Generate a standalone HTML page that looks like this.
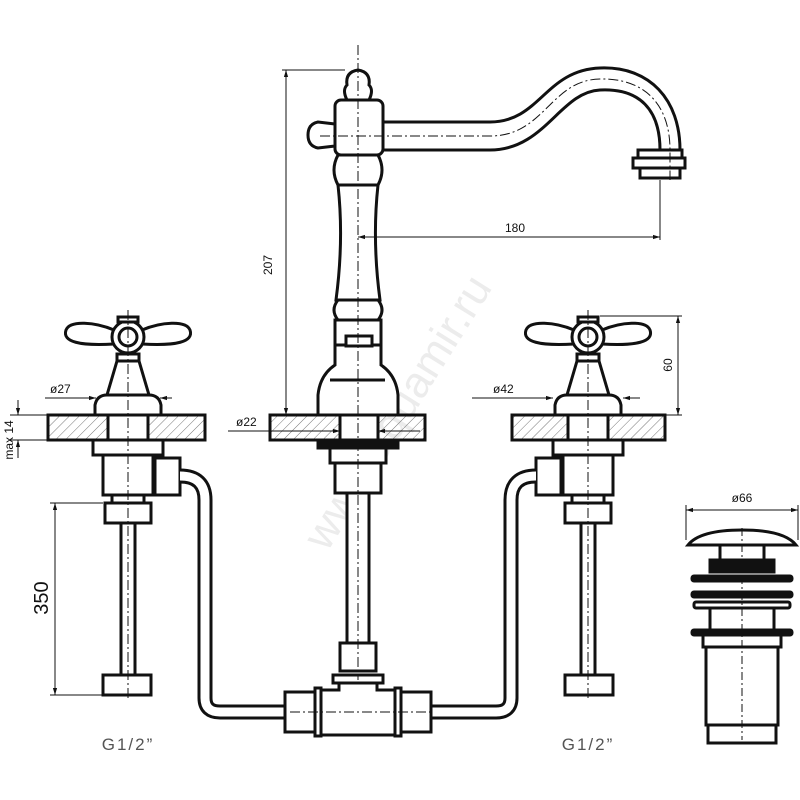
<!DOCTYPE html>
<html><head><meta charset="utf-8"><style>
html,body{margin:0;padding:0;background:#fff;width:800px;height:800px;overflow:hidden}
svg{display:block}
text{font-family:"Liberation Sans",sans-serif;fill:#111}
</style></head><body>
<svg width="800" height="800" viewBox="0 0 800 800" xmlns="http://www.w3.org/2000/svg">
<defs>
<pattern id="h" width="7" height="7" patternUnits="userSpaceOnUse" patternTransform="rotate(45)">
<line x1="0" y1="0" x2="0" y2="7" stroke="#777" stroke-width="1"/></pattern>
<marker id="a" viewBox="0 0 10 10" refX="10" refY="5" markerWidth="7" markerHeight="7" orient="auto-start-reverse"><path d="M0,2 L10,5 L0,8z" fill="#111"/></marker>
<g id="valve" fill="#fff" stroke="#111" stroke-width="3">
 <path d="M114,330 C95,322 70,320 66,330 C62,342 80,346 114,344z"/>
 <path d="M142,330 C161,322 186,320 190,330 C194,342 176,346 142,344z"/>
 <circle cx="128" cy="337" r="16"/>
 <circle cx="128" cy="337" r="9"/>
 <rect x="118" y="317" width="20" height="5"/>
 <rect x="117" y="354" width="22" height="7"/>
 <path d="M117,361 L139,361 L149,395 L107,395z"/>
 <path d="M95,415 L95,405 Q97,395 107,395 L149,395 Q159,395 161,405 L161,415z"/>
 <rect x="108" y="415" width="40" height="25"/>
 <rect x="93" y="440" width="70" height="15"/>
 <rect x="103" y="455" width="50" height="40"/>
 <rect x="155" y="458" width="25" height="37"/>
 <rect x="112" y="495" width="32" height="8"/>
 <rect x="105" y="503" width="46" height="20"/>
 <rect x="121" y="523" width="14" height="152"/>
 <rect x="103" y="675" width="48" height="20"/>
 <path d="M180,476 Q205,476 205,500 L205,698 Q205,712 220,712 L288,712" fill="none" stroke-width="15"/>
 <path d="M180,476 Q205,476 205,500 L205,698 Q205,712 220,712 L288,712" fill="none" stroke="#fff" stroke-width="9"/>
 <line x1="128" y1="310" x2="128" y2="700" stroke-width="1" stroke-dasharray="10,3,2,3"/>
</g>
</defs>

<text x="410" y="420" font-size="44" transform="rotate(-58 410 420)" text-anchor="middle" style="fill:#ececec">www.aquamir.ru</text>

<!-- counter slabs -->
<g stroke="#111" stroke-width="3" fill="url(#h)">
<rect x="48" y="415" width="157" height="25"/>
<rect x="270" y="415" width="155" height="25"/>
<rect x="512" y="415" width="153" height="25"/>
</g>

<use href="#valve"/>
<use href="#valve" transform="translate(716,0) scale(-1,1)"/>

<!-- center faucet -->
<g fill="#fff" stroke="#111" stroke-width="3">
 <path d="M383,122 L490,122 C540,122 545,70 600,68 C650,66 680,100 680,150 L660,150 C660,110 640,88 600,90 C560,92 545,150 490,150 L383,150z"/>
 <rect x="638" y="150" width="44" height="8"/>
 <rect x="633" y="158" width="52" height="10"/>
 <rect x="640" y="168" width="40" height="10"/>
 <path d="M335,124 L318,122 Q308,124 308,135 Q308,146 318,148 L335,146z"/>
 <path d="M347,100 Q342,90 347,85 Q345,72 358,70 Q371,72 369,85 Q374,90 369,100z"/>
 <rect x="335" y="100" width="48" height="55" rx="6"/>
 <path d="M338,155 L378,155 Q386,170 378,185 L338,185 Q330,170 338,155z"/>
 <path d="M338,185 L378,185 Q372,240 380,300 L336,300 Q344,240 338,185z"/>
 <path d="M338,300 L378,300 Q386,310 378,320 L338,320 Q330,310 338,300z"/>
 <rect x="335" y="320" width="46" height="25"/>
 <path d="M318,415 L318,395 Q320,375 335,365 L335,345 L381,345 L381,365 Q396,375 398,395 L398,415z"/>
 <rect x="346" y="336" width="26" height="10"/>
 <line x1="330" y1="380" x2="385" y2="380"/>
 <rect x="340" y="415" width="38" height="25"/>
 <rect x="318" y="440" width="80" height="8" fill="#111"/>
 <rect x="330" y="448" width="56" height="15"/>
 <rect x="335" y="463" width="46" height="30"/>
 <rect x="347" y="493" width="22" height="150"/>
 <rect x="340" y="643" width="36" height="28"/>
 <rect x="333" y="675" width="50" height="8"/>
 <path d="M339,683 L377,683 L377,690 L395,690 L395,735 L321,735 L321,690 L339,690z"/>
 <rect x="285" y="692" width="30" height="40"/>
 <rect x="315" y="688" width="6" height="48"/>
 <rect x="401" y="692" width="30" height="40"/>
 <rect x="395" y="688" width="6" height="48"/>
</g>
<g stroke="#111" stroke-width="1" stroke-dasharray="10,3,2,3" fill="none">
 <line x1="358" y1="45" x2="358" y2="680"/>
 <path d="M320,136 L490,136 C545,136 550,80 600,79 C645,78 670,105 670,150 L670,180"/>
 <line x1="290" y1="712" x2="430" y2="712"/>
</g>

<!-- drain -->
<g fill="#fff" stroke="#111" stroke-width="3">
 <path d="M688,545 Q700,530 742,530 Q784,530 796,545z"/>
 <rect x="720" y="545" width="44" height="15"/>
 <rect x="710" y="560" width="64" height="12" fill="#111"/>
 <rect x="692" y="576" width="100" height="5" rx="2" fill="#111"/>
 <rect x="692" y="592" width="100" height="5" rx="2" fill="#111"/>
 <rect x="694" y="602" width="96" height="6" rx="2"/>
 <rect x="710" y="608" width="64" height="22"/>
 <rect x="692" y="630" width="100" height="5" rx="2" fill="#111"/>
 <rect x="703" y="635" width="78" height="12"/>
 <rect x="706" y="647" width="72" height="78"/>
 <rect x="708" y="725" width="68" height="18"/>
</g>
<line x1="742" y1="528" x2="742" y2="740" stroke="#111" stroke-width="1" stroke-dasharray="8,3,2,3"/>

<!-- dimensions -->
<g stroke="#111" stroke-width="1" fill="none">
 <line x1="282" y1="70" x2="345" y2="70"/>
 <line x1="286" y1="70" x2="286" y2="415" marker-start="url(#a)" marker-end="url(#a)"/>
 <line x1="358" y1="237" x2="660" y2="237" marker-start="url(#a)" marker-end="url(#a)"/>
 <line x1="660" y1="180" x2="660" y2="240"/>
 <line x1="600" y1="316" x2="682" y2="316"/>
 <line x1="665" y1="415" x2="682" y2="415"/>
 <line x1="678" y1="316" x2="678" y2="415" marker-start="url(#a)" marker-end="url(#a)"/>
 <line x1="472" y1="398" x2="553" y2="398" marker-end="url(#a)"/>
 <line x1="623" y1="398" x2="640" y2="398" marker-start="url(#a)"/>
 <line x1="45" y1="398" x2="96" y2="398" marker-end="url(#a)"/>
 <line x1="160" y1="398" x2="172" y2="398" marker-start="url(#a)"/>
 <line x1="228" y1="431" x2="340" y2="431" marker-end="url(#a)"/>
 <line x1="378" y1="431" x2="420" y2="431" marker-start="url(#a)"/>
 <line x1="10" y1="415" x2="48" y2="415"/>
 <line x1="10" y1="440" x2="48" y2="440"/>
 <line x1="18" y1="400" x2="18" y2="415" marker-end="url(#a)"/>
 <line x1="18" y1="458" x2="18" y2="440" marker-end="url(#a)"/>
 <line x1="50" y1="503" x2="103" y2="503"/>
 <line x1="50" y1="695" x2="103" y2="695"/>
 <line x1="55" y1="503" x2="55" y2="695" marker-start="url(#a)" marker-end="url(#a)"/>
 <line x1="686" y1="510" x2="798" y2="510" marker-start="url(#a)" marker-end="url(#a)"/>
 <line x1="686" y1="505" x2="686" y2="540"/>
 <line x1="798" y1="505" x2="798" y2="540"/>
</g>
<g font-size="12">
 <text x="272" y="265" transform="rotate(-90 272 265)" text-anchor="middle">207</text>
 <text x="515" y="232" text-anchor="middle">180</text>
 <text x="672" y="365" transform="rotate(-90 672 365)" text-anchor="middle">60</text>
 <text x="493" y="393">ø42</text>
 <text x="50" y="393">ø27</text>
 <text x="236" y="426">ø22</text>
 <text x="13" y="440" transform="rotate(-90 13 440)" text-anchor="middle">max 14</text>
 <text x="742" y="502" text-anchor="middle">ø66</text>
</g>
<text x="48" y="598" font-size="20" transform="rotate(-90 48 598)" text-anchor="middle">350</text>
<text x="128" y="750" font-size="17" style="fill:#555" text-anchor="middle" letter-spacing="2">G1/2”</text>
<text x="588" y="750" font-size="17" style="fill:#555" text-anchor="middle" letter-spacing="2">G1/2”</text>
</svg>
</body></html>
